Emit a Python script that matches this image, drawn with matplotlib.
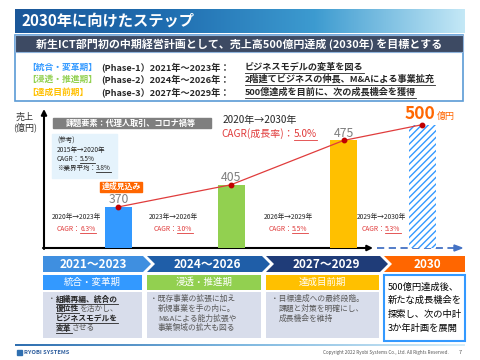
import matplotlib
matplotlib.use("Agg")
import matplotlib.pyplot as plt
import numpy as np
from matplotlib.patches import Rectangle, Polygon
from matplotlib.colors import LinearSegmentedColormap

plt.rcParams['font.family'] = ['Noto Sans CJK JP', 'DejaVu Sans']
plt.rcParams['hatch.linewidth'] = 1.0

# ---------------- data ----------------
title = '2030年に向けたステップ'
subtitle = '新生ICT部門初の中期経営計画として、売上高500億円達成 (2030年) を目標とする'
phase_labels = ['【統合・変革期】', '【浸透・推進期】', '【達成目前期】']
phase_ids = ['(Phase-1）', '(Phase-2）', '(Phase-3）']
phase_years = ['2021年～2023年：', '2024年～2026年：', '2027年～2029年：']
phase_desc = ['ビジネスモデルの変革を図る', '2階建てビジネスの伸長、M&Aによる事業拡充',
              '500億達成を目前に、次の成長機会を獲得']
sales = [370, 405, 475, 500]
sales_labels = ['370', '405', '475', '500']
cagr_ranges = ['2020年→2023年', '2023年→2026年', '2026年→2029年', '2029年→2030年']
cagr_values = ['6.3%', '3.0%', '5.5%', '5.3%']
periods = ['2021～2023', '2024～2026', '2027～2029', '2030']
phase_names = ['統合・変革期', '浸透・推進期', '達成目前期']
desc2 = ['・既存事業の拡張に加え', '新規事業を手の内に。', 'M&Aによる能力拡張や', '事業領域の拡大も図る']
desc3 = ['・目標達成への最終段階。', '課題と対策を明確にし、', '成長機会を維持']
desc4 = ['500億円達成後、', '新たな成長機会を', '探索し、次の中計', '3か年計画を展開']

# ---------------- style ----------------
BLUE = '#3399ff'
GREEN = '#92d050'
YELLOW = '#ffc000'
ORANGE = '#ff6600'
RED = '#e03c3c'
DARK = '#262626'
GRAY = '#595959'
bar_colors = [BLUE, GREEN, YELLOW]
phase_colors = [BLUE, GREEN, YELLOW]
chev_colors = ['#3f8fe0', '#1f5ea8', '#1f3c78', ORANGE]

fig = plt.figure(figsize=(4.8, 3.6), dpi=100)
ov = fig.add_axes([0, 0, 1, 1])
ov.set_xlim(0, 480)
ov.set_ylim(360, 0)
ov.axis('off')
ov.set_zorder(1)
renderer = fig.canvas.get_renderer()


def text_width(s, fs, weight='normal'):
    t = ov.text(0, 0, s, fontsize=fs, fontweight=weight)
    w = t.get_window_extent(renderer).width
    t.remove()
    return w


def seg_text(x, y, segs, fs):
    for s, color, weight, ul in segs:
        t = ov.text(x, y, s, fontsize=fs, color=color, fontweight=weight,
                    ha='left', va='center')
        w = t.get_window_extent(renderer).width
        if ul:
            ov.plot([x, x + w], [y + fs * 0.85, y + fs * 0.85], color=color, lw=0.6)
        x += w
    return x


# title gradient bar
cmap_t = LinearSegmentedColormap.from_list('t', ['#1b5799', '#1f6db0', '#3d9bd0', '#c4e8f6'])
grad = np.linspace(0, 1, 256).reshape(1, -1)
ov.imshow(grad, cmap=cmap_t, extent=[15, 465, 33, 9], aspect='auto', zorder=1)
ov.text(22, 21, title, fontsize=11, fontweight='bold', color='white', va='center', ha='left', zorder=3)

# phase box
ov.add_patch(Rectangle((15, 35), 448, 66, facecolor='white', edgecolor='#5b9bd5', lw=1.2, zorder=1))
ov.add_patch(Rectangle((15, 35), 448, 17, facecolor='#3d4a63', edgecolor='#8fb4dc', lw=0.8, zorder=2))
ov.text(239, 44, subtitle, fontsize=7.9, fontweight='bold', color='white', ha='center', va='center', zorder=3)

ys = [67, 79.5, 92]
for i in range(3):
    ov.text(27, ys[i], phase_labels[i], fontsize=6.3, fontweight='bold', color=phase_colors[i],
            ha='left', va='center')
    seg_text(101, ys[i], [(phase_ids[i] + phase_years[i], DARK, 'bold', False)], 6.6)
    seg_text(245, ys[i], [(phase_desc[i], DARK, 'bold', True)], 6.6)

# ---------------- chart ----------------
x_left, x_right, y_bot, y_top = 44, 460, 248, 112
cax = fig.add_axes([x_left / 480, (360 - y_bot) / 360, (x_right - x_left) / 480, (y_bot - y_top) / 360])
cax.set_zorder(2)
cax.patch.set_visible(False)
cax.axis('off')
pos = [0, 1, 2, 2.7]
cax.set_xlim(-0.662, 3.035)
cax.set_ylim(305, 520)
for i in range(3):
    cax.bar(pos[i], sales[i], width=0.24, bottom=0, color=bar_colors[i], zorder=2)
cax.bar(pos[3], sales[3], width=0.24, color='white', edgecolor=BLUE, hatch='/////', lw=0, zorder=2)
cax.plot(pos, sales, color=RED, lw=0.9, zorder=3)
cax.plot(pos, sales, 'o', color='#c00000', ms=3.2, zorder=4)
for i in range(3):
    cax.text(pos[i], sales[i] + 11, sales_labels[i], fontsize=8.8, color='#7f7f7f', ha='center', va='center')
cax.text(pos[3] - 0.02, sales[3] + 3, sales_labels[3], fontsize=12.5, fontweight='bold', color=ORANGE,
         ha='center', va='bottom')
cax.text(pos[3] + 0.13, sales[3] + 6, '億円', fontsize=6.5, color=ORANGE, ha='left', va='bottom')

# axes arrows
ov.annotate('', xy=(373, y_bot), xytext=(43, y_bot),
            arrowprops=dict(arrowstyle='-|>', color='black', lw=1.5, mutation_scale=8, shrinkA=0, shrinkB=0))
ov.annotate('', xy=(44, 109), xytext=(44, y_bot + 1),
            arrowprops=dict(arrowstyle='-|>', color='black', lw=1.5, mutation_scale=8, shrinkA=0, shrinkB=0))
ov.plot([377, 455], [y_bot, y_bot], color='#4472c4', lw=1.3, ls=(0, (4, 2.5)))
ov.add_patch(Polygon([(454, y_bot - 3), (462, y_bot), (454, y_bot + 3)], color='#4472c4'))
ov.text(25, 122, '売上\n(億円)', fontsize=6.5, color='#333333', ha='center', va='center', linespacing=1.1)

# gray issue box
ov.add_patch(Rectangle((53, 118), 158, 10, color='#7f7f7f'))
ov.text(131, 123, '課題要素：代理人取引、コロナ禍等', fontsize=5.9, fontweight='bold', color='white',
        ha='center', va='center')
# reference box
ov.add_patch(Rectangle((52, 134), 65, 44, color='#e5f3fc'))
ov.text(57, 141, '(参考)', fontsize=4.7, color=DARK, ha='left', va='center')
ov.text(57, 150, '2015年→2020年', fontsize=4.7, color=DARK, ha='left', va='center')
seg_text(57, 159, [('CAGR：', DARK, 'normal', False), ('5.5%', DARK, 'normal', True)], 4.7)
seg_text(57, 168, [('※業界平均：', DARK, 'normal', False), ('3.8%', DARK, 'normal', True)], 4.7)

# achievement label
ov.add_patch(Rectangle((100, 181.5), 42, 10.5, color=ORANGE, zorder=3))
ov.text(121, 186.8, '達成見込み', fontsize=5.7, fontweight='bold', color='white', ha='center', va='center', zorder=4)

# overall CAGR
ov.text(223, 120, '2020年→2030年', fontsize=7.2, color=DARK, ha='left', va='center')
seg_text(221, 134, [('CAGR(成長率)：', RED, 'normal', False), ('5.0%', RED, 'normal', True)], 7.2)

# period CAGR
cagr_x = [76, 173, 288, 381]
for i in range(4):
    ov.text(cagr_x[i], 217, cagr_ranges[i], fontsize=4.8, color=DARK, ha='center', va='center')
    full = 'CAGR：' + cagr_values[i]
    w = text_width(full, 4.8)
    seg_text(cagr_x[i] - w / 2, 229, [('CAGR：', RED, 'normal', False), (cagr_values[i], RED, 'normal', True)], 4.8)

# ---------------- bottom section ----------------
chev = [(43, 143), (147, 262), (266, 380), (384, 465)]
tip = 8
y0, y1 = 256, 272
ym = (y0 + y1) / 2
for i, (xl, xr) in enumerate(chev):
    if i == 0:
        pts = [(xl, y0), (xr, y0), (xr + tip, ym), (xr, y1), (xl, y1)]
    elif i == 3:
        pts = [(xl, y0), (xr, y0), (xr, y1), (xl, y1), (xl + tip, ym)]
    else:
        pts = [(xl, y0), (xr, y0), (xr + tip, ym), (xr, y1), (xl, y1), (xl + tip, ym)]
    ov.add_patch(Polygon(pts, closed=True, color=chev_colors[i], lw=0))
    cx = (xl + xr) / 2 + (3 if i > 0 else 0)
    ov.text(cx, ym + 0.5, periods[i], fontsize=8.5, fontweight='bold', color='white', ha='center', va='center')

boxes = [(43, 142), (147, 261), (266, 379)]
for i, (xl, xr) in enumerate(boxes):
    ov.add_patch(Rectangle((xl, 274.5), xr - xl, 15.5, color=phase_colors[i], lw=0))
    ov.text((xl + xr) / 2, 282.5, phase_names[i], fontsize=6.8, color='white', ha='center', va='center')
    ov.add_patch(Rectangle((xl, 292), xr - xl, 46, color='#d8ddeb', lw=0))

ov.add_patch(Rectangle((383.5, 275), 81, 66, facecolor='white', edgecolor=BLUE, lw=1.5))
for k, s in enumerate(desc4):
    ov.text(388, 287 + k * 13.7, s, fontsize=6.7, color='black', ha='left', va='center')

ly = [299, 308.7, 318.4, 328]
B = 'bold'
N = 'normal'
col1 = [[('・', GRAY, N, False), ('組織再編、統合の', DARK, B, True)],
        [('優位性', DARK, B, True), ('を活かし、', GRAY, N, False)],
        [('ビジネスモデルを', DARK, B, True)],
        [('変革', DARK, B, True), ('させる', GRAY, N, False)]]
for k, segs in enumerate(col1):
    seg_text(48 if k == 0 else 56, ly[k], segs, 5.6)
for k, s in enumerate(desc2):
    ov.text(150 if k == 0 else 158, ly[k], s, fontsize=5.6, color=GRAY, ha='left', va='center')
for k, s in enumerate(desc3):
    ov.text(271 if k == 0 else 279, ly[k], s, fontsize=5.6, color=GRAY, ha='left', va='center')

# footer
cmap_f = LinearSegmentedColormap.from_list('f', ['#2f6fb0', '#7fb8e0', '#d8eef8'])
ov.imshow(grad, cmap=cmap_f, extent=[15, 465, 346.5, 344.5], aspect='auto')
ov.add_patch(Rectangle((17, 349.5), 5, 5, color='#2f6fb0'))
ov.text(24, 352, 'RYOBI SYSTEMS', fontsize=4.2, fontweight='bold', color='#2f5f9f', ha='left', va='center')
ov.text(386, 352, 'Copyright 2022 Ryobi Systems Co., Ltd. All Rights Reserved.', fontsize=3.3,
        color='#555555', ha='center', va='center')
ov.text(460, 352, '7', fontsize=4, color='#555555', ha='center', va='center')

fig.savefig('out.png', dpi=100)
